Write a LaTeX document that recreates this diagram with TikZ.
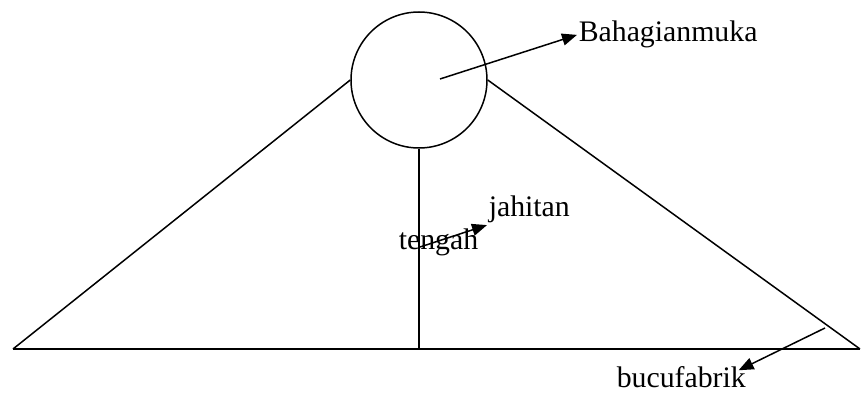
\documentclass[tikz,border=0pt]{standalone}
\usepackage{fontspec}
\setmainfont{Liberation Serif}
\usetikzlibrary{arrows.meta}

\begin{document}
\begin{tikzpicture}[x=1pt,y=-1pt,line width=1.5pt,
  arr/.style={-{Triangle[length=15pt,width=12pt]}},
  lbl/.style={anchor=base west,inner sep=1pt,font=\fontsize{29.8}{32}\selectfont}]
  \useasboundingbox (0,0) rectangle (863,393);

  \node[circle,draw,minimum size=136pt,inner sep=0pt] (head) at (419,80) {};
  \coordinate (bl) at (13,349);
  \coordinate (br) at (860,349);
  \coordinate (bm) at (419,349);

  \draw (bl) -- (br);
  \draw (bl) -- (head.west);
  \draw (head.east) -- (br);
  \draw (head.south) -- (bm);

  \node[lbl] (muka) at (577,42) {Bahagianmuka};
  \node[lbl] (jahit) at (487,217) {jahitan};
  \node[lbl] (tengah) at (397,250) {tengah};
  \node[lbl] (bucu) at (615,387) {bucufabrik};

  \coordinate (p1) at (440,79);
  \coordinate (p2) at (420,247);
  \coordinate (p3) at (825,328);

  \draw[arr] (p1) -- (muka.west);
  \draw[arr] (p2) -- (jahit.south west);
  \draw[arr] (p3) -- ([xshift=-9pt,yshift=-6pt]bucu.north east);
\end{tikzpicture}
\end{document}
